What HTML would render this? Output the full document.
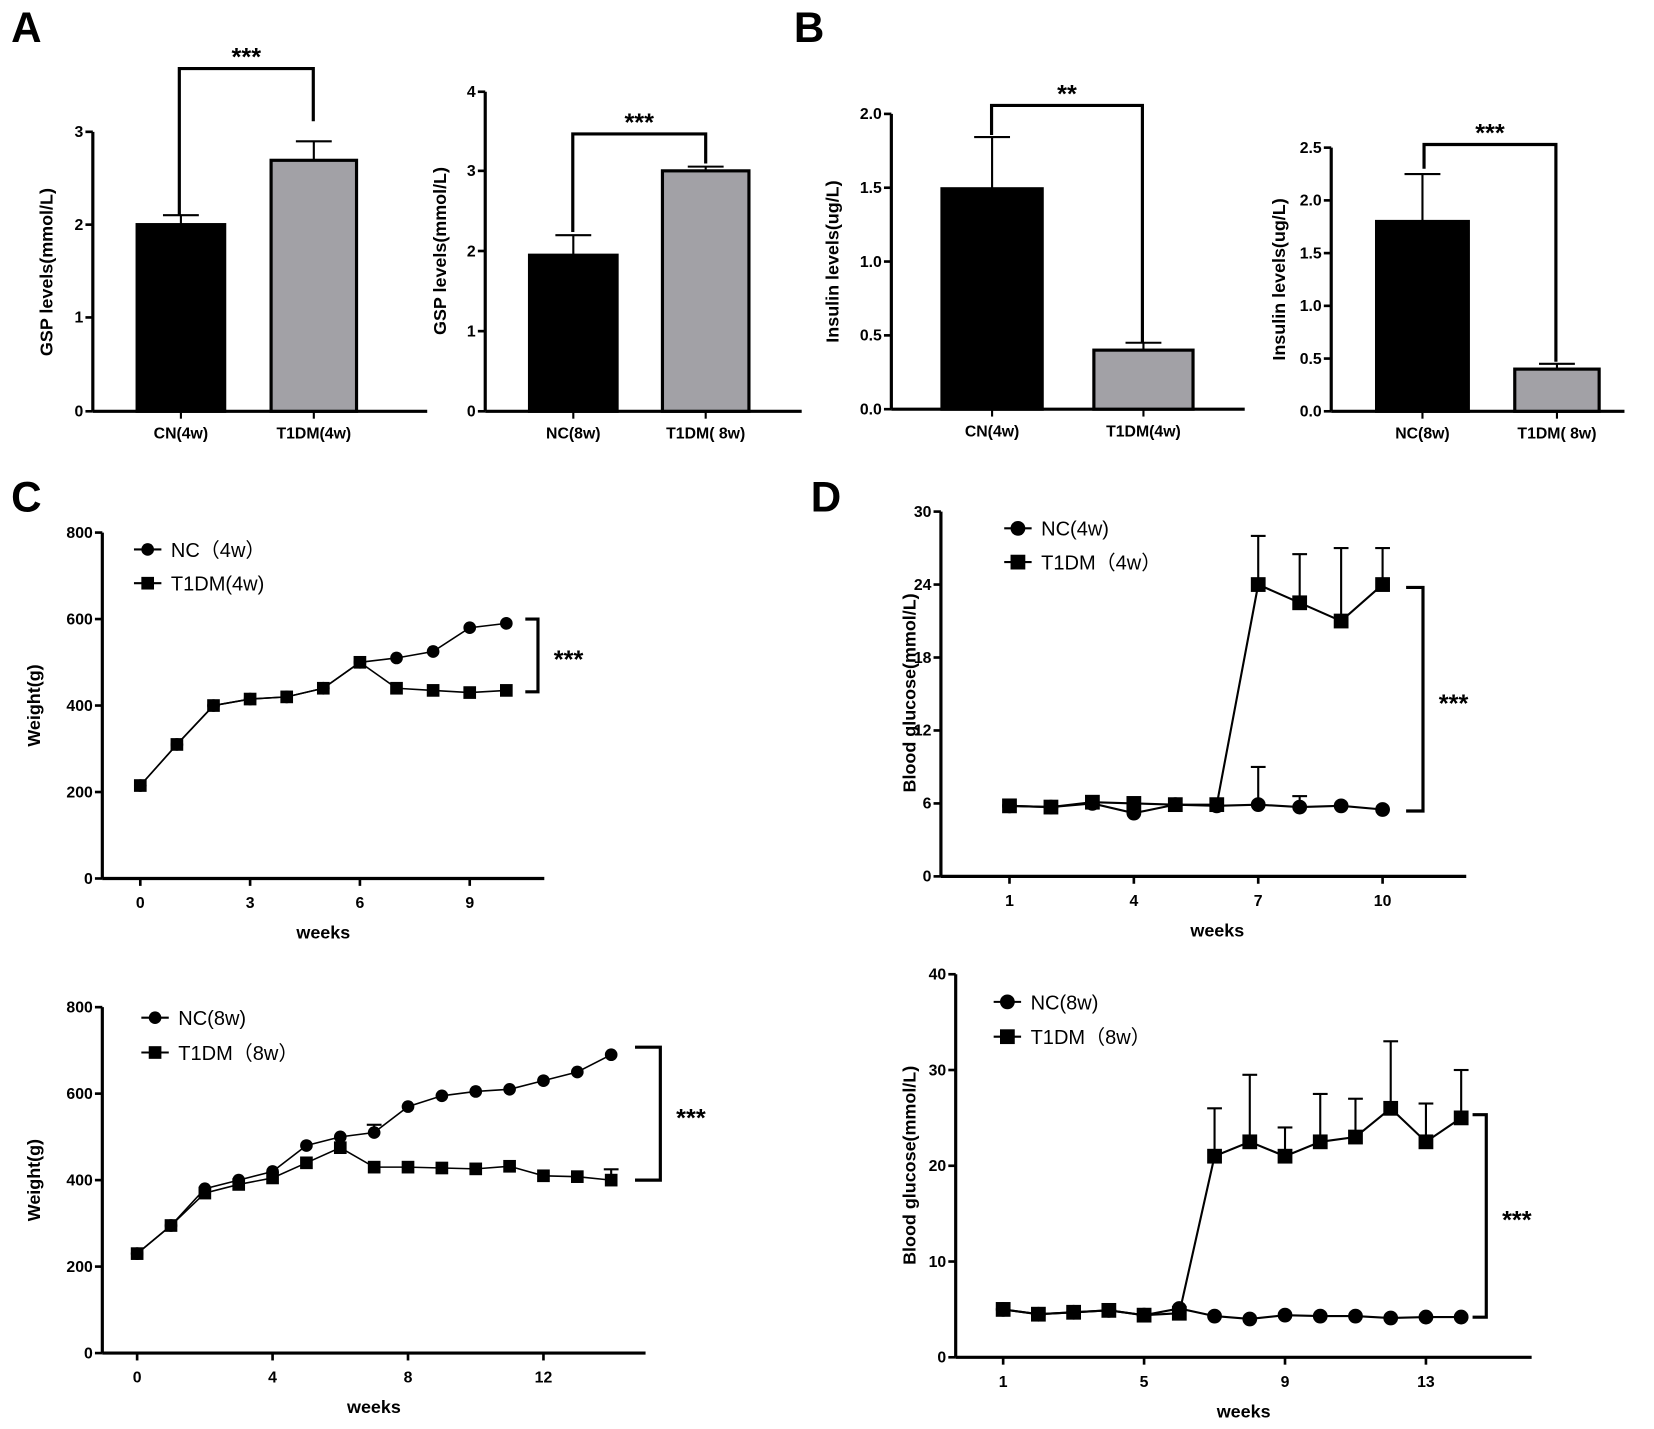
<!DOCTYPE html>
<html><head><meta charset="utf-8"><style>
html,body{margin:0;padding:0;background:#fff}
svg{display:block}
text{font-family:"Liberation Sans","Noto Sans CJK SC",sans-serif}
.t{font-weight:bold;font-size:15px}
.ax{font-weight:bold;font-size:17px}
.st{font-weight:bold;font-size:24px}
.lg{font-size:19px}
.L{font-weight:bold;font-size:40px}
</style></head><body>
<svg id="s" width="1654" height="1429" viewBox="0 0 1568 1355" preserveAspectRatio="none" xmlns="http://www.w3.org/2000/svg"></svg>
<script>
var s=document.getElementById('s'),h='';
function L(x1,y1,x2,y2,w){h+='<line x1="'+x1+'" y1="'+y1+'" x2="'+x2+'" y2="'+y2+'" stroke="#000" stroke-width="'+(w||2.5)+'"/>';}
function T(x,y,t,c,a,rot){h+='<text x="'+x+'" y="'+y+'" class="'+c+'" text-anchor="'+(a||'middle')+'"'+(rot?' transform="rotate(-90 '+x+' '+y+')"':'')+'>'+t+'</text>';}
function yaxis(x,y0,ticks,xEnd,lblX,lblY,lbl){
 L(x,y0,xEnd,y0,3);L(x,ticks[ticks.length-1][1],x,y0,3);
 ticks.forEach(function(t){L(x-7,t[1],x,t[1],2.5);T(x-9,t[1]+5,t[0],'t','end');});
 T(lblX,lblY,lbl,'ax','middle',1);
}
T(25,40,'A','L');T(767,40,'B','L');T(25,485,'C','L');T(783,485,'D','L');
function bars(ax,y0,ticks,xEnd,lx,ly,lbl,b,br,star,labels){
 yaxis(ax,y0,ticks,xEnd,lx,ly,lbl);
 b.forEach(function(r,i){
  var x=(r[0]+r[1])/2;
  L(x,r[3],x,r[2],2);L(x-17,r[3],x+17,r[3],2);
  h+='<rect x="'+r[0]+'" y="'+r[2]+'" width="'+(r[1]-r[0])+'" height="'+(y0-r[2])+'" fill="'+(i?'#a2a1a6':'#000')+'" stroke="#000" stroke-width="3"/>';
  L(x,y0,x,y0+7,2);T(x,y0+26,labels[i],'t');
 });
 h+='<polyline points="'+br[0]+','+br[1]+' '+br[0]+','+br[2]+' '+br[3]+','+br[2]+' '+br[3]+','+br[4]+'" fill="none" stroke="#000" stroke-width="3"/>';
 T((br[0]+br[3])/2,br[2]-3,star,'st');
}
bars(88,390,[[0,390],[1,301],[2,213],[3,125]],405,50,258,'GSP levels(mmol/L)',
 [[130,213,213,204],[257,338,152,134]],[170,204,65,297,115],'***',['CN(4w)','T1DM(4w)']);
bars(460,390,[[0,390],[1,314],[2,238],[3,162],[4,87]],760,423,238,'GSP levels(mmol/L)',
 [[502,585,242,223],[628,710,162,158]],[543,220,127,669,155],'***',['NC(8w)','T1DM( 8w)']);
bars(845,388,[['0.0',388],['0.5',318],['1.0',248],['1.5',178],['2.0',108]],1180,795,248,'Insulin levels(ug/L)',
 [[893,988,179,130],[1037,1131,332,325]],[940,128,100,1083,325],'**',['CN(4w)','T1DM(4w)']);
bars(1262,390,[['0.0',390],['0.5',340],['1.0',290],['1.5',240],['2.0',190],['2.5',140]],1540,1218,265,'Insulin levels(ug/L)',
 [[1305,1392,210,165],[1436,1516,350,345]],[1350,160,137,1475,343],'***',['NC(8w)','T1DM( 8w)']);
function line(o){
 var X=function(w){return o.x0+(w-o.w0)*o.dx;},Y=function(v){return o.y0-v*o.dy;};
 yaxis(o.ax,o.y0,o.ticks.map(function(t){return [t,Y(t)];}),o.xEnd,o.lx,o.ly,o.lbl);
 o.xt.forEach(function(w){L(X(w),o.y0,X(w),o.y0+7,2.5);T(X(w),o.y0+28,w,'t');});
 T((o.ax+o.xEnd)/2+o.wo,o.y0+57,'weeks','ax');
 [o.nc,o.td].forEach(function(d,k){
  var e=k?o.tde:o.nce;
  for(var i in e){var x=X(o.w0+ +i),y=Y(d[i]),ye=Y(e[i]);L(x,y,x,ye,2);L(x-7,ye,x+7,ye,2);}
  h+='<polyline points="'+d.map(function(v,i){return X(o.w0+i)+','+Y(v);}).join(' ')+'" fill="none" stroke="#000" stroke-width="'+o.lw+'"/>';
 });
 o.nc.forEach(function(v,i){h+='<circle cx="'+X(o.w0+i)+'" cy="'+Y(v)+'" r="'+o.m+'"/>';});
 o.td.forEach(function(v,i){h+='<rect x="'+(X(o.w0+i)-o.m)+'" y="'+(Y(v)-o.m)+'" width="'+2*o.m+'" height="'+2*o.m+'"/>';});
 var g=o.lg;
 L(g[0]-13,g[1],g[0]+13,g[1],2);h+='<circle cx="'+g[0]+'" cy="'+g[1]+'" r="'+o.m+'"/>';T(g[0]+22,g[1]+7,o.l1,'lg','start');
 L(g[0]-13,g[2],g[0]+13,g[2],2);h+='<rect x="'+(g[0]-o.m)+'" y="'+(g[2]-o.m)+'" width="'+2*o.m+'" height="'+2*o.m+'"/>';T(g[0]+22,g[2]+7,o.l2,'lg','start');
 var b=o.br;
 h+='<polyline points="'+b[0]+','+b[2]+' '+b[1]+','+b[2]+' '+b[1]+','+b[3]+' '+b[0]+','+b[3]+'" fill="none" stroke="#000" stroke-width="3"/>';
 T(b[1]+29,(b[2]+b[3])/2+12,'***','st');
}
line({ax:97,y0:833,dy:0.41,x0:133,w0:0,dx:34.7,xEnd:516,ticks:[0,200,400,600,800],xt:[0,3,6,9],wo:0,lx:38,ly:669,lbl:'Weight(g)',lw:1.5,m:6,
 nc:[215,310,400,415,420,440,500,510,525,580,590],td:[215,310,400,415,420,440,500,440,435,430,435],nce:{},tde:{},
 lg:[140,521,553],l1:'NC（4w）',l2:'T1DM(4w)',br:[498,510,587,656]});
line({ax:97,y0:1283,dy:0.41,x0:130,w0:0,dx:32.1,xEnd:612,ticks:[0,200,400,600,800],xt:[0,4,8,12],wo:0,lx:38,ly:1119,lbl:'Weight(g)',lw:1.5,m:6,
 nc:[230,295,380,400,420,480,500,510,570,595,605,610,630,650,690],td:[230,295,370,390,405,440,475,430,430,428,426,432,410,408,400],nce:{7:528},tde:{14:425},
 lg:[147,965,998],l1:'NC(8w)',l2:'T1DM（8w）',br:[602,626,993,1119]});
line({ax:892,y0:831,dy:11.53,x0:957,w0:1,dx:39.3,xEnd:1390,ticks:[0,6,12,18,24,30],xt:[1,4,7,10],wo:13,lx:868,ly:657,lbl:'Blood glucose(mmol/L)',lw:2,m:7,
 nc:[5.8,5.7,6.0,5.2,5.9,5.8,5.9,5.7,5.8,5.5],td:[5.8,5.7,6.1,6.0,5.9,5.9,24,22.5,21,24],nce:{6:9,7:6.6},tde:{6:28,7:26.5,8:27,9:27},
 lg:[965,501,533],l1:'NC(4w)',l2:'T1DM（4w）',br:[1333,1349,557,769]});
line({ax:906,y0:1287,dy:9.08,x0:951,w0:1,dx:33.4,xEnd:1452,ticks:[0,10,20,30,40],xt:[1,5,9,13],wo:0,lx:868,ly:1105,lbl:'Blood glucose(mmol/L)',lw:2,m:7,
 nc:[5,4.5,4.7,4.9,4.4,5.1,4.3,4.0,4.4,4.3,4.3,4.1,4.2,4.2],td:[5,4.5,4.7,4.9,4.4,4.6,21,22.5,21,22.5,23,26,22.5,25],nce:{},tde:{6:26,7:29.5,8:24,9:27.5,10:27,11:33,12:26.5,13:30},
 lg:[955,950,983],l1:'NC(8w)',l2:'T1DM（8w）',br:[1396,1409,1057,1249]});
s.innerHTML=h;
</script>
</body></html>
